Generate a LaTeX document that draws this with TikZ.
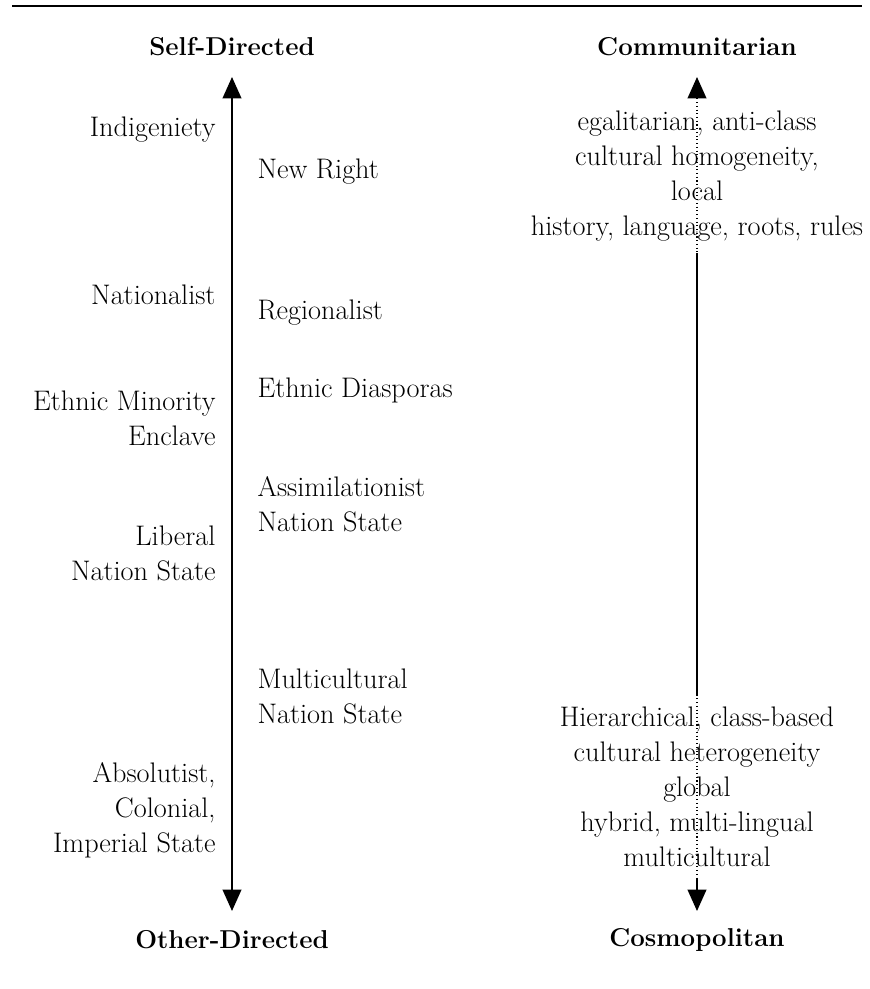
\documentclass[tikz,border=0pt]{standalone}
\usetikzlibrary{arrows.meta}

\tikzset{every picture/.style={line width=0.75pt}}
\tikzset{
  axis/.style={line width=1.3pt, {Triangle[width=14pt,length=16pt]}-{Triangle[width=14pt,length=16pt]}},
  lbl/.style={inner sep=0.75pt, font=\fontsize{21.2}{26.25}\selectfont},
  ttl/.style={inner sep=0.75pt, font=\fontsize{19.4}{24}\selectfont\bfseries},
  blk/.style={lbl, fill=white, inner xsep=2pt, inner ysep=9pt, align=center}
}

\begin{document}
\begin{tikzpicture}[x=0.75pt,y=0.75pt,yscale=-1,xscale=1]
	\useasboundingbox (0,0) rectangle (869,989);
	\draw [line width=1.6pt] (12,6) -- (862,6) ;
	
	\coordinate (ltop) at (232,77) ;
	\coordinate (lbot) at (232,911) ;
	\coordinate (rtop) at (697,77) ;
	\coordinate (rbot) at (697,911) ;
	\draw [axis] (lbot) -- (ltop) ;
	\draw [axis] (rbot) -- (rtop) ;
	
	\draw (232,47) node [ttl] (self) {Self-Directed};
	
	\draw (697,47) node [ttl] (comm) {Communitarian};
	
	\draw (232,940) node [ttl] (other) {Other-Directed};
	
	\draw (697,940) node [ttl] (cosmo) {Cosmopolitan};
	
	\draw (217,130) node [anchor=east][lbl] [align=right] (indig) {Indigeniety};
	
	\draw (256,172) node [anchor=west][lbl] [align=left] (newr) {New Right};
	
	\draw (217,295) node [anchor=east][lbl] [align=right] (natl) {Nationalist};
	
	\draw (256,313) node [anchor=west][lbl] [align=left] (regl) {Regionalist};
	
	\draw (256,390) node [anchor=west][lbl] [align=left] (diasp) {Ethnic Diasporas};
	
	\draw (217,418) node [anchor=east][lbl] [align=right] (encl) {Ethnic Minority\\Enclave};
	
	\draw (256,504) node [anchor=west][lbl] [align=left] (assim) {Assimilationist\\Nation State};
	
	\draw (217,553) node [anchor=east][lbl] [align=right] (libr) {Liberal\\Nation State};
	
	\draw (256,696) node [anchor=west][lbl] [align=left] (multi) {Multicultural\\Nation State};
	
	\draw (217,810) node [anchor=east][lbl] [align=right] (absol) {Absolutist,\\Colonial,\\Imperial State};
	
	\draw (697,176) node [blk] (commblk) {egalitarian, anti-class\\cultural homogeneity,\\local\\history, language, roots, rules};
	
	\draw (697,787) node [blk] (cosmoblk) {Hierarchical, class-based\\cultural heterogeneity\\global\\hybrid, multi-lingual\\multicultural};
	
	\draw [dotted, line width=0.8pt] (rtop |- commblk.north) -- (rtop |- commblk.south) ;
	\draw [dotted, line width=0.8pt] (rtop |- cosmoblk.north) -- (rtop |- cosmoblk.south) ;
\end{tikzpicture}
\end{document}
